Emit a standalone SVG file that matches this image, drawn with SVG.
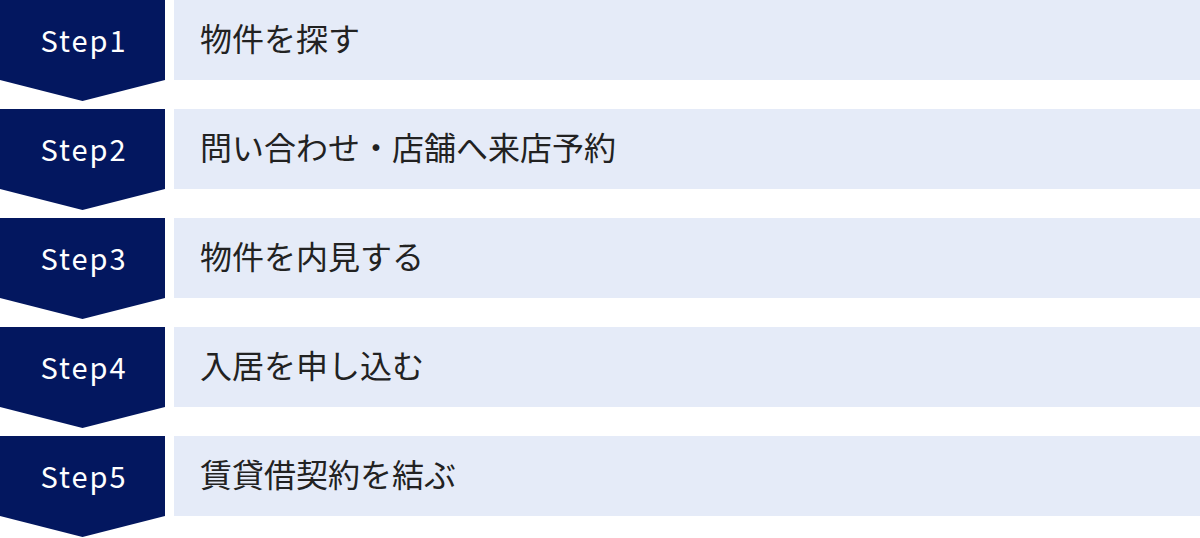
<svg xmlns="http://www.w3.org/2000/svg" width="1200" height="538" viewBox="0 0 1200 538">
<defs>
<style>
.arrow{fill:#03175f}
.box{fill:#e5ebf8}
.step{fill:#ffffff;font-family:"Noto Sans CJK JP","Noto Sans",sans-serif;font-size:29px;text-anchor:middle;letter-spacing:2px}
.label{fill:#222222;font-family:"Noto Sans CJK JP","Noto Sans",sans-serif;font-size:32px}
</style>
<polygon id="chev" class="arrow" points="0,0 165,0 165,80 82.5,101 0,80"/>
</defs>
<rect width="1200" height="538" fill="#ffffff"/>
<g id="step1" transform="translate(0,0)">
<use href="#chev"/>
<rect class="box" x="174" y="0" width="1026" height="80"/>
<text class="step" x="84" y="52">Step1</text>
<text class="label" x="200" y="51">物件を探す</text>
</g>
<g id="step2" transform="translate(0,109)">
<use href="#chev"/>
<rect class="box" x="174" y="0" width="1026" height="80"/>
<text class="step" x="84" y="52">Step2</text>
<text class="label" x="200" y="51">問い合わせ・店舗へ来店予約</text>
</g>
<g id="step3" transform="translate(0,218)">
<use href="#chev"/>
<rect class="box" x="174" y="0" width="1026" height="80"/>
<text class="step" x="84" y="52">Step3</text>
<text class="label" x="200" y="51">物件を内見する</text>
</g>
<g id="step4" transform="translate(0,327)">
<use href="#chev"/>
<rect class="box" x="174" y="0" width="1026" height="80"/>
<text class="step" x="84" y="52">Step4</text>
<text class="label" x="200" y="51">入居を申し込む</text>
</g>
<g id="step5" transform="translate(0,436)">
<use href="#chev"/>
<rect class="box" x="174" y="0" width="1026" height="80"/>
<text class="step" x="84" y="52">Step5</text>
<text class="label" x="200" y="51">賃貸借契約を結ぶ</text>
</g>
<g id="connectors"></g>
</svg>
